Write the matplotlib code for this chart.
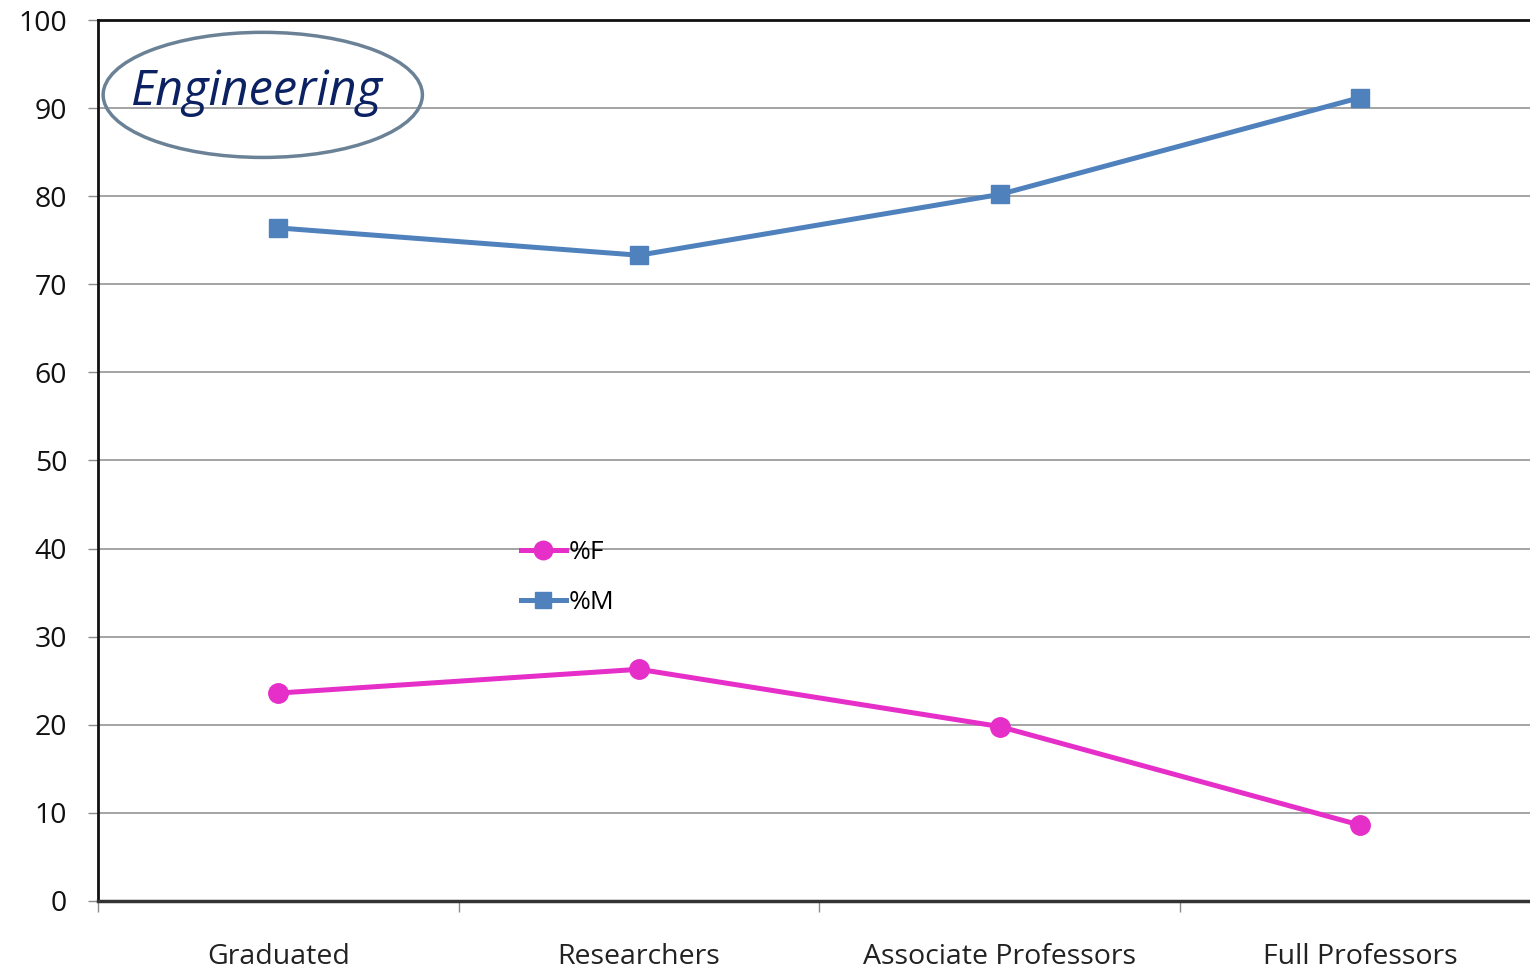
import matplotlib.pyplot as plt
from matplotlib.patches import Ellipse

categories = ["Graduated", "Researchers", "Associate Professors", "Full Professors"]
pct_female = [23.6, 26.3, 19.8, 8.6]
pct_male = [76.4, 73.3, 80.2, 91.2]
y_ticks = [0, 10, 20, 30, 40, 50, 60, 70, 80, 90, 100]

FONT = ["Open Sans", "DejaVu Sans"]
plt.rcParams["font.family"] = FONT

fig = plt.figure(figsize=(15.3, 9.71), dpi=100)
ax = fig.add_axes([0.064, 0.0721, 0.936, 0.9073])

x = [i + 0.5 for i in range(len(categories))]
ax.plot(x, pct_female, color="#e62ec8", lw=3.6, marker="o", ms=14,
        label="%F", zorder=3)
ax.plot(x, pct_male, color="#4f81bd", lw=3.6, marker="s", ms=12.5,
        label="%M", zorder=3)

ax.set_xlim(0, 3.97)
ax.set_ylim(0, 100)
ax.set_yticks(y_ticks)
ax.set_yticklabels([str(v) for v in y_ticks], fontsize=20.5, color="#111111")
ax.yaxis.grid(True, color="#8c8c8c", lw=1.1)
ax.set_axisbelow(True)
ax.tick_params(axis="y", length=7, width=1, color="#8c8c8c", pad=15)

ax.set_xticks([0, 1, 2, 3])
ax.set_xticklabels([])
ax.tick_params(axis="x", length=8, width=1, color="#8c8c8c", direction="out")
for xi, name in zip(x, categories):
    ax.text(xi, -6.4, name, ha="center", va="center", fontsize=20.5,
            color="#222222", transform=ax.transData, clip_on=False)

for side in ("left", "top"):
    ax.spines[side].set_color("#111111")
    ax.spines[side].set_linewidth(2)
ax.spines["bottom"].set_color("#333333")
ax.spines["bottom"].set_linewidth(2.5)
ax.spines["right"].set_visible(False)

ell = Ellipse((0.457, 91.5), 0.885, 14.2, facecolor="none",
              edgecolor="#6b8296", lw=2.5, zorder=4)
ax.add_patch(ell)
ax.text(0.44, 91.8, "Engineering", ha="center", va="center", fontsize=35,
        style="italic", color="#0b2162", zorder=5)

leg = ax.legend(loc="upper left", bbox_to_anchor=(0.325, 0.468),
                bbox_transform=fig.transFigure, frameon=False, fontsize=19,
                handlelength=1.7, handletextpad=0.1, labelspacing=0.95,
                markerscale=0.95)

fig.savefig("out.png", dpi=100)
